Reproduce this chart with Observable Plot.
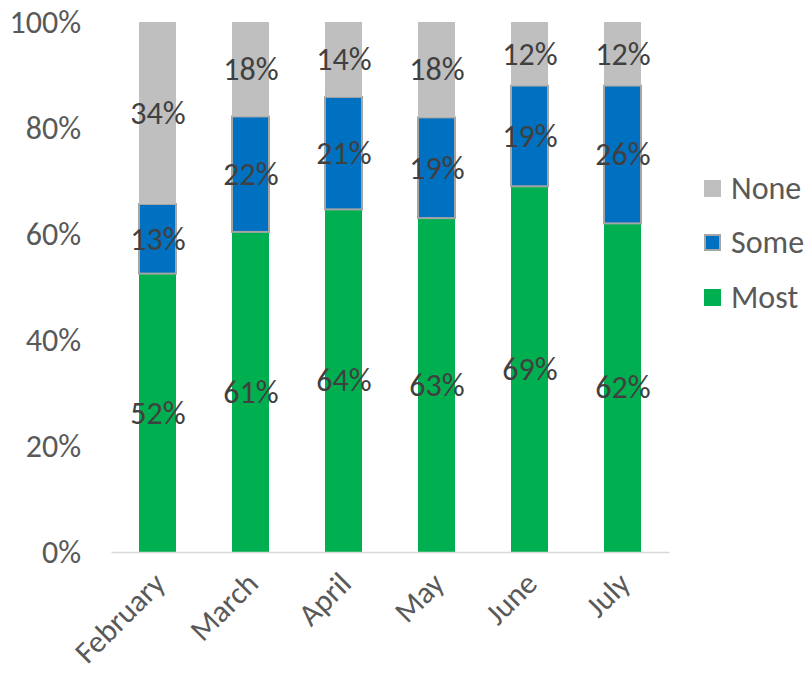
<!DOCTYPE html>
<html>
<head>
<meta charset="utf-8">
<script src="https://cdn.jsdelivr.net/npm/d3@7"></script>
<script src="https://cdn.jsdelivr.net/npm/@observablehq/plot@0.6"></script>
<style>
  body { margin: 0; background: #fff; }
  #wrap { position: relative; width: 804px; height: 677px; font-family: Carlito, Calibri, "Liberation Sans", sans-serif; }
  #legend { position: absolute; left: 704px; top: 161px; }
  .item { display: flex; align-items: center; height: 54.5px; font-size: 32px; color: #595959; }
  .sw { width: 17px; height: 17px; margin-right: 10px; box-sizing: border-box; }
</style>
</head>
<body>
<div id="wrap"><div id="legend"></div></div>
<script>
const months = ["February", "March", "April", "May", "June", "July"];
const series = ["Most", "Some", "None"];
const most = [52, 61, 64, 63, 69, 62];
const some = [13, 22, 21, 19, 19, 26];
const none = [34, 18, 14, 18, 12, 12];
const colors = ["#00B050", "#0070C0", "#BFBFBF"];
const yTicks = [0, 0.2, 0.4, 0.6, 0.8, 1];

const values = [most, some, none];
const data = [];
series.forEach((s, i) => months.forEach((m, j) => data.push({month: m, series: s, value: values[i][j]})));

const stackOpts = {offset: "normalize", order: series};
const font = 'Carlito, Calibri, "Liberation Sans", sans-serif';

const chart = Plot.plot({
  width: 804,
  height: 677,
  marginLeft: 111.5,
  marginRight: 134.5,
  marginTop: 22,
  marginBottom: 125,
  style: {fontFamily: font, fontSize: "32px", color: "#595959", background: "white"},
  x: {domain: months, paddingInner: 0.6, paddingOuter: 0.3, label: null},
  y: {domain: [0, 1], label: null},
  color: {domain: series, range: colors},
  marks: [
    Plot.axisY({ticks: yTicks, tickFormat: d3.format(".0%"), tickSize: 0, tickPadding: 31, label: null, fill: "#595959", fontSize: 32}),
    Plot.axisX({tickSize: 0, tickRotate: -45, tickPadding: 26, dx: 2, label: null, fill: "#595959", fontSize: 31}),
    Plot.barY(data, Plot.stackY(stackOpts, {
      x: "month", y: "value", z: "series", fill: "series",
      stroke: d => d.series === "Some" ? "#A5A5A5" : "none", strokeWidth: 2
    })),
    Plot.ruleY([0], {stroke: "#D9D9D9", strokeWidth: 1.5}),
    Plot.text(data, Plot.stackY(stackOpts, {
      x: "month", y: "value", z: "series", text: d => d.value + "%",
      fill: "#404040", fontSize: 32
    }))
  ]
});
const wrap = document.getElementById("wrap");
wrap.insertBefore(chart, wrap.firstChild);

const legend = document.getElementById("legend");
[...series].reverse().forEach(s => {
  const i = series.indexOf(s);
  const it = document.createElement("div");
  it.className = "item";
  const sw = document.createElement("span");
  sw.className = "sw";
  sw.style.background = colors[i];
  if (s === "Some") sw.style.border = "2px solid #A5A5A5";
  const t = document.createElement("span");
  t.textContent = s;
  it.appendChild(sw); it.appendChild(t);
  legend.appendChild(it);
});
</script>
</body>
</html>
